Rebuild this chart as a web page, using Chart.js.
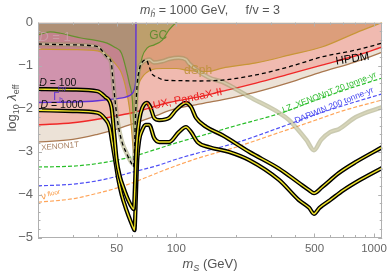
<!DOCTYPE html>
<html>
<head>
<meta charset="utf-8">
<script src="https://cdn.jsdelivr.net/npm/chart.js@4.4.0/dist/chart.umd.min.js"></script>
<style>
  html, body { margin: 0; padding: 0; background: #fff; }
</style>
</head>
<body>
<canvas id="chart" width="391" height="273"></canvas>
<script>
// ---- axis ticks ----
var xTickLabels = [50, 100, 500, 1000];
var xMinorTicks = [20, 30, 40, 60, 70, 80, 90, 200, 300, 400, 600, 700, 800, 900];
var yTickLabels = [0, -1, -2, -3, -4, -5];

// ---- exclusion boundaries (m_S in GeV, log10 lambda_eff) ----
var xenonM = [20, 30, 40, 50, 60, 80, 92, 130, 170, 253, 372, 545, 800, 1100];
var xenonL = [-2.78, -2.72, -2.6, -2.48, -2.36, -2.16, -2.05, -1.9, -1.8, -1.62, -1.4, -1.15, -0.92, -0.69];

var luxM = [20, 30, 40, 50, 60, 92, 130, 170, 253, 372, 545, 800, 1100];
var luxL = [-2.38, -2.33, -2.25, -2.17, -2.1, -1.86, -1.73, -1.6, -1.41, -1.2, -0.99, -0.78, -0.57];

var dsphM = [20, 30, 40, 45, 47.5, 50, 52.8, 55.9, 57.9, 59.3, 60.5, 61.5, 62.3, 63.3, 65, 67.3, 70.6, 75, 85, 100, 116, 145, 171, 253, 372, 545, 810, 1100];
var dsphL = [-0.62, -0.63, -0.66, -0.76, -0.88, -1.0, -1.17, -1.57, -1.97, -2.43, -2.9, -3.1, -2.6, -1.73, -1.41, -1.27, -1.17, -1.1, -1.07, -1.07, -1.12, -1.14, -1.06, -0.94, -0.76, -0.57, -0.24, 0.0];

var gcM = [20, 23, 26, 29, 33, 38.6, 44.7, 48.6, 52.8, 55.9, 57.9, 60, 61, 61.6, 62.2, 63.3, 65, 67.3, 71.4, 77.4, 85, 92, 103.5, 130, 1100];
var gcL = [-0.29, -0.22, -0.25, -0.3, -0.36, -0.41, -0.48, -0.57, -0.71, -1.1, -1.41, -1.8, -2.4, -2.6, -2.4, -1.8, -1.17, -0.8, -0.59, -0.52, -0.41, -0.17, 0.06, 0.4, 0.5];

var gammaM = [20, 30, 40, 50, 55, 58, 60, 61.5, 62.2, 62.5, 62.6];
var gammaL = [-1.86, -1.85, -1.82, -1.77, -1.74, -1.7, -1.65, -1.55, -1.42, -1.1, 0.3];

// ---- future sensitivities ----
var lzM = [20, 30, 40, 50, 60, 73, 100, 130, 200, 331, 500, 700, 1100];
var lzL = [-3.36, -3.34, -3.28, -3.2, -3.12, -3.0, -2.8, -2.65, -2.4, -2.12, -1.82, -1.58, -1.29];

var darwinM = [20, 30, 40, 50, 60, 80, 100, 130, 200, 331, 500, 700, 1100];
var darwinL = [-3.8, -3.76, -3.68, -3.58, -3.48, -3.33, -3.18, -3.03, -2.8, -2.45, -2.15, -1.93, -1.66];

var nuM = [20, 30, 40, 50, 60, 80, 100, 130, 200, 331, 500, 700, 1100];
var nuL = [-4.18, -4.1, -3.97, -3.85, -3.73, -3.5, -3.33, -3.15, -2.9, -2.56, -2.28, -2.05, -1.8];

// ---- relic abundance curves ----
var hpdmM = [20, 30, 40, 44.7, 47, 47.5, 48.6, 50.4, 52.8, 55.9, 59.3, 60.7, 61.4, 62.1, 63.3, 65, 67.3, 70.6, 73, 75.6, 80, 87, 100, 130, 171, 253, 372, 545, 810, 1100];
var hpdmL = [-0.5, -0.52, -0.56, -0.8, -0.94, -1.17, -1.64, -2.27, -2.73, -3.03, -3.27, -3.36, -3.03, -2.3, -1.5, -1.1, -0.92, -0.87, -1.03, -1.2, -1.27, -1.34, -1.35, -1.36, -1.34, -1.22, -1.03, -0.8, -0.64, -0.48];

var d1M = [20, 30, 40, 44.7, 47, 47.5, 48.6, 50.4, 52.8, 56, 59.3, 61, 62.1, 63.3, 64, 65, 67.3, 70.6, 73, 77, 85, 92, 103, 112, 116, 146, 171, 234, 331, 372, 455, 497, 540, 600, 664, 810, 1100];
var d1L = [-0.5, -0.52, -0.56, -0.8, -0.94, -1.17, -1.64, -2.27, -2.73, -3.03, -3.25, -3.3, -2.3, -1.5, -1.25, -1.05, -0.93, -0.88, -0.86, -0.93, -0.9, -0.85, -0.82, -0.86, -0.95, -1.28, -1.38, -1.73, -2.1, -2.27, -2.73, -2.97, -2.73, -2.55, -2.48, -2.2, -1.97];

var d100M = [20, 30, 40, 43.7, 47, 48.6, 50, 52, 54, 57.2, 60, 61, 61.8, 62.8, 65, 67.3, 71, 74, 77.4, 82, 92, 100, 112, 119, 126, 142, 171, 234, 331, 417, 470, 497, 546, 664, 812, 1100];
var d100L = [-1.55, -1.56, -1.6, -1.73, -1.96, -2.6, -3.2, -3.6, -3.83, -4.13, -4.31, -4.34, -3.83, -2.97, -2.27, -1.99, -1.87, -1.97, -2.22, -2.27, -2.22, -2.03, -1.87, -1.97, -2.22, -2.43, -2.62, -3.01, -3.4, -3.73, -3.9, -3.97, -3.83, -3.5, -3.24, -2.9];

var d1000M = [20, 30, 40, 43.3, 46, 47.5, 49.5, 51, 53, 56, 59, 61, 61.5, 62.2, 62.8, 63.5, 65, 67.3, 70, 73, 77.4, 82, 92, 103, 112, 119, 128, 147, 185, 234, 331, 417, 470, 497, 530, 600, 700, 850, 1100];
var d1000L = [-2.04, -2.06, -2.1, -2.22, -2.43, -2.8, -3.3, -3.66, -4.01, -4.36, -4.64, -4.8, -4.83, -4.36, -3.78, -3.2, -2.73, -2.5, -2.38, -2.38, -2.69, -2.78, -2.78, -2.55, -2.43, -2.55, -2.78, -2.9, -3.01, -3.2, -3.66, -4.13, -4.31, -4.45, -4.31, -4.13, -3.9, -3.66, -3.38];

var FONT = "'Liberation Sans', Arial, sans-serif";

function pts(m, l) {
  return m.map(function(v, i) { return { x: v, y: l[i] }; });
}

function fillSet(m, l, color, order) {
  return {
    data: pts(m, l), fill: 'end', backgroundColor: color,
    borderWidth: 0, borderColor: 'rgba(0,0,0,0)', pointRadius: 0,
    cubicInterpolationMode: 'monotone', order: order, clip: 0
  };
}

function lineSet(m, l, color, width, dash, order) {
  return {
    data: pts(m, l), fill: false, borderColor: color, borderWidth: width,
    borderDash: dash || [], pointRadius: 0, cubicInterpolationMode: 'monotone',
    order: order, clip: 0, borderCapStyle: 'butt', borderJoinStyle: 'round'
  };
}

// text helper: parts drawn one after another, {t, size, italic, dy}
function richWidth(ctx, parts) {
  var w = 0;
  parts.forEach(function(p) {
    ctx.font = (p.italic ? 'italic ' : '') + p.size + 'px ' + FONT;
    w += ctx.measureText(p.t).width;
  });
  return w;
}
function drawRich(ctx, x, y, parts, color, align, angle) {
  ctx.save();
  ctx.translate(x, y);
  if (angle) ctx.rotate(angle * Math.PI / 180);
  var w = richWidth(ctx, parts);
  var cx = align === 'center' ? -w / 2 : 0;
  ctx.fillStyle = color;
  ctx.textBaseline = 'alphabetic';
  ctx.textAlign = 'left';
  parts.forEach(function(p) {
    ctx.font = (p.italic ? 'italic ' : '') + p.size + 'px ' + FONT;
    ctx.fillText(p.t, cx, p.dy || 0);
    cx += ctx.measureText(p.t).width;
  });
  ctx.restore();
}

var labels = [
  { m: 20.3, l: -0.42, parts: [{t: 'D', size: 13, italic: true}, {t: ' = 1', size: 13}], color: 'rgba(205,165,175,0.75)', align: 'left', angle: 0 },
  { m: 20.3, l: -1.48, parts: [{t: 'D', size: 10.5, italic: true}, {t: ' = 100', size: 10.5}], color: '#111', align: 'left', angle: 0 },
  { m: 20.6, l: -1.99, parts: [{t: 'D', size: 10.5, italic: true}, {t: ' = 1000', size: 10.5}], color: '#111', align: 'left', angle: 0 },
  { m: 23.9, l: -1.81, parts: [{t: 'Γ', size: 11}, {t: 'h', size: 6.5, dy: 2}], color: 'rgb(90,50,210)', align: 'left', angle: 0 },
  { m: 25.2, l: -1.6, parts: [{t: 'inv', size: 6.5}], color: 'rgb(90,50,210)', align: 'left', angle: 0 },
  { m: 81, l: -0.39, parts: [{t: 'GC', size: 12}], color: 'rgb(100,140,50)', align: 'center', angle: 0 },
  { m: 129, l: -1.2, parts: [{t: 'dSph', size: 12}], color: 'rgba(190,145,60,0.9)', align: 'center', angle: 0 },
  { m: 111, l: -1.86, parts: [{t: 'LUX, PandaX-II', size: 11}], color: 'rgb(235,30,30)', align: 'center', angle: -11.5 },
  { m: 783, l: -0.92, parts: [{t: 'HPDM', size: 11.5}], color: '#000', align: 'center', angle: -9 },
  { m: 600, l: -1.68, parts: [{t: 'LZ, XENONnT 20 tonne-yr', size: 8.5}], color: 'rgb(50,190,50)', align: 'center', angle: -21 },
  { m: 635, l: -1.98, parts: [{t: 'DARWIN 200 tonne-yr', size: 8.5}], color: 'rgb(70,70,240)', align: 'center', angle: -22 },
  { m: 25.9, l: -2.93, parts: [{t: 'XENON1T', size: 8}], color: 'rgb(170,130,100)', align: 'center', angle: -5 },
  { m: 20.9, l: -4.12, parts: [{t: 'ν', size: 10, italic: false}, {t: ' floor', size: 6.5, dy: -2}], color: 'rgb(250,150,60)', align: 'left', angle: -12 }
];

var decor = {
  id: 'decor',
  afterDatasetsDraw: function(chart) {
    var ctx = chart.ctx, x = chart.scales.x, y = chart.scales.y;
    labels.forEach(function(lb) {
      drawRich(ctx, x.getPixelForValue(lb.m), y.getPixelForValue(lb.l), lb.parts, lb.color, lb.align, lb.angle);
    });
  },
  afterDraw: function(chart) {
    var ctx = chart.ctx, a = chart.chartArea, x = chart.scales.x, y = chart.scales.y;
    ctx.save();
    ctx.strokeStyle = '#b0b0b0';
    ctx.lineWidth = 1;
    ctx.strokeRect(Math.round(a.left) + 0.5, Math.round(a.top) + 0.5,
      Math.round(a.right - a.left) - 1, Math.round(a.bottom - a.top) - 1);
    ctx.beginPath();
    function vt(v, len) {
      var px = Math.round(x.getPixelForValue(v)) + 0.5;
      ctx.moveTo(px, a.bottom); ctx.lineTo(px, a.bottom - len);
      ctx.moveTo(px, a.top); ctx.lineTo(px, a.top + len);
    }
    function ht(v, len) {
      var py = Math.round(y.getPixelForValue(v)) + 0.5;
      ctx.moveTo(a.left, py); ctx.lineTo(a.left + len, py);
      ctx.moveTo(a.right, py); ctx.lineTo(a.right - len, py);
    }
    xTickLabels.forEach(function(v) { vt(v, 4); });
    xMinorTicks.forEach(function(v) { vt(v, 2.5); });
    yTickLabels.forEach(function(v) { ht(v, 4); });
    for (var v = -4.8; v < 0; v += 0.2) {
      if (Math.abs(v - Math.round(v)) > 0.05) ht(v, 2.5);
    }
    ctx.stroke();
    ctx.restore();

    // title and axis titles
    drawRich(ctx, 210, 14, [
      {t: 'm', size: 12.5, italic: true}, {t: 'ĥ', size: 8.5, italic: true, dy: 3},
      {t: ' = 1000 GeV,     f/v = 3', size: 12.5}
    ], '#555', 'center', 0);
    drawRich(ctx, 210, 268, [
      {t: 'm', size: 13, italic: true}, {t: 'S', size: 9, italic: true, dy: 3},
      {t: ' (GeV)', size: 13}
    ], '#555', 'center', 0);
    drawRich(ctx, 16, 108, [
      {t: 'log', size: 13}, {t: '10', size: 9, dy: 3}, {t: ' λ', size: 13, italic: true},
      {t: 'eff', size: 9, dy: 3}
    ], '#555', 'center', -90);
  }
};

var datasets = [
  fillSet(xenonM, xenonL, 'rgb(236,226,215)', 200),
  fillSet(luxM, luxL, 'rgb(240,186,176)', 190),
  fillSet(dsphM, dsphL, 'rgba(200,130,70,0.5)', 180),
  fillSet(gammaM, gammaL, 'rgba(160,90,170,0.4)', 170),
  fillSet(gcM, gcL, 'rgba(150,160,90,0.45)', 160),
  lineSet(xenonM, xenonL, 'rgb(170,120,80)', 1.3, null, 150),
  lineSet(luxM, luxL, 'rgb(240,40,40)', 1.4, null, 140),
  lineSet(lzM, lzL, 'rgb(40,190,40)', 1.2, [4, 2], 130),
  lineSet(darwinM, darwinL, 'rgb(80,80,245)', 1.2, [4, 2], 120),
  lineSet(nuM, nuL, 'rgb(255,165,90)', 1.2, [4, 2], 110),
  lineSet(dsphM, dsphL, 'rgb(200,150,55)', 1.2, null, 100),
  lineSet(gcM, gcL, 'rgb(100,145,45)', 1.2, null, 90),
  lineSet(gammaM, gammaL, 'rgb(95,50,215)', 1.4, null, 80),
  lineSet(d1M, d1L, 'rgba(150,150,100,0.5)', 4.5, null, 70),
  lineSet(d1M, d1L, 'rgba(225,222,190,0.6)', 1.6, null, 65),
  lineSet(d1000M, d1000L, '#000', 4.2, null, 60),
  lineSet(d1000M, d1000L, 'rgb(240,228,40)', 1.4, null, 55),
  lineSet(d100M, d100L, '#000', 4.2, null, 50),
  lineSet(d100M, d100L, 'rgb(240,228,40)', 1.4, null, 45),
  lineSet(hpdmM, hpdmL, '#000', 1.3, [4, 3], 40)
];

new Chart(document.getElementById('chart'), {
  type: 'line',
  data: { datasets: datasets },
  options: {
    responsive: false,
    devicePixelRatio: 1,
    animation: false,
    parsing: false,
    normalized: true,
    layout: { padding: { top: 22.5, right: 8, left: 0, bottom: 0 } },
    plugins: { legend: { display: false }, tooltip: { enabled: false }, title: { display: false } },
    scales: {
      x: {
        type: 'logarithmic', min: 20, max: 1100,
        grid: { display: false, drawTicks: false },
        border: { display: false },
        afterBuildTicks: function(s) { s.ticks = xTickLabels.map(function(v) { return { value: v }; }); },
        afterFit: function(s) { s.height = 35.5; },
        ticks: {
          color: '#666', padding: 4, maxRotation: 0, autoSkip: false,
          font: { family: FONT, size: 11.5 },
          callback: function(v) { return String(v); }
        }
      },
      y: {
        type: 'linear', min: -5, max: 0,
        grid: { display: false, drawTicks: false },
        border: { display: false },
        afterBuildTicks: function(s) { s.ticks = yTickLabels.map(function(v) { return { value: v }; }); },
        afterFit: function(s) { s.width = 38; },
        ticks: {
          color: '#666', padding: 5,
          font: { family: FONT, size: 13 },
          callback: function(v) { return v < 0 ? '\u2212' + Math.abs(v) : String(v); }
        }
      }
    }
  },
  plugins: [decor]
});
</script>
</body>
</html>
